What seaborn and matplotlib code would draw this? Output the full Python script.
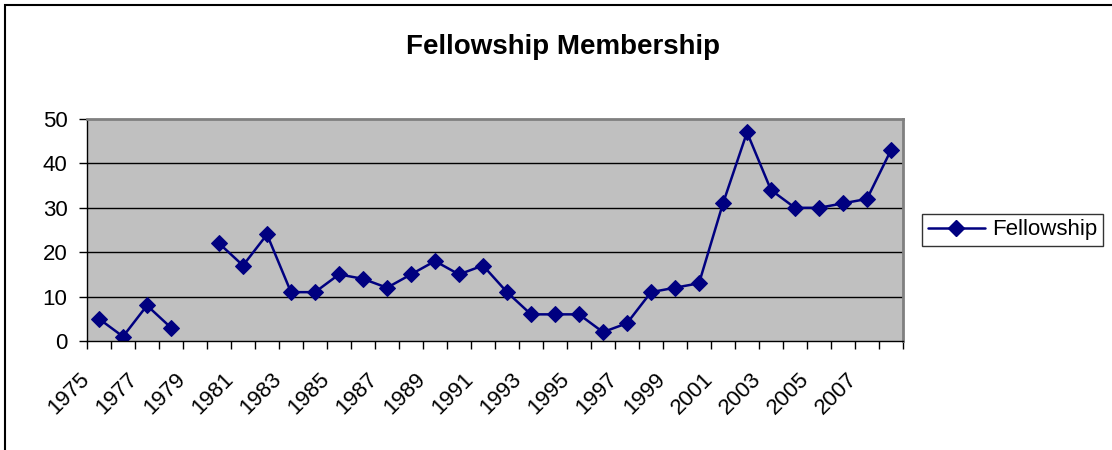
import numpy as np
import pandas as pd
import matplotlib.pyplot as plt
import matplotlib.transforms as mtrans
import seaborn as sns
from matplotlib.patches import Rectangle

# data (1979 has no value)
years = list(range(1975, 2009))
members = [5, 1, 8, 3, np.nan, 22, 17, 24, 11, 11, 15, 14, 12, 15, 18, 15, 17,
           11, 6, 6, 6, 2, 4, 11, 12, 13, 31, 47, 34, 30, 30, 31, 32, 43]
yticks = [0, 10, 20, 30, 40, 50]

df = pd.DataFrame({"year": years, "members": members})
df["pos"] = np.arange(len(df))
# split into runs so the missing year leaves a gap
df["seg"] = df["members"].isna().cumsum()
df = df.dropna()

sns.set_style("white")
plt.rcParams["font.family"] = ["Liberation Sans", "DejaVu Sans"]
plt.rcParams["text.color"] = "black"
plt.rcParams["xtick.color"] = "black"
plt.rcParams["ytick.color"] = "black"

fig = plt.figure(figsize=(11.12, 4.5), dpi=100)
ax = fig.add_axes([87 / 1112, 1 - 341 / 450, 816 / 1112, 222 / 450])
ax.set_facecolor("#C0C0C0")

navy = "#000080"
sns.lineplot(data=df, x="pos", y="members", units="seg", estimator=None,
             color=navy, lw=1.8, marker="D", markersize=8,
             markeredgecolor=navy, ax=ax, legend=False)

ax.set_ylim(0, 50)
ax.set_yticks(yticks)
for y in yticks[1:-1]:
    ax.axhline(y, color="black", lw=1, zorder=0.5)

# tick marks on category edges, labels on every other year
ax.set_xticks(np.arange(-0.5, len(years), 1.0))
ax.set_xticklabels([])
ax.set_xticks(np.arange(0, len(years), 2), minor=True)
ax.set_xticklabels([str(y) for y in years[::2]], minor=True, rotation=45,
                   ha="right", rotation_mode="anchor", fontsize=16)
ax.set_xlim(-0.5, len(years) - 0.5)
ax.tick_params(axis="x", which="major", direction="out", length=6, width=1,
               color="black", bottom=True)
ax.tick_params(axis="x", which="minor", length=0, pad=20)
ax.tick_params(axis="y", direction="out", length=6, width=1, color="black",
               left=True, labelsize=16, pad=8)

# nudge the slanted labels left, as in the original
shift = mtrans.ScaledTranslation(-0.20, 0, fig.dpi_scale_trans)
for lab in ax.get_xticklabels(minor=True):
    lab.set_transform(lab.get_transform() + shift)

ax.set_xlabel("")
ax.set_ylabel("")
for s in ["top", "right"]:
    ax.spines[s].set_color("#808080")
    ax.spines[s].set_linewidth(2)
for s in ["left", "bottom"]:
    ax.spines[s].set_color("black")
    ax.spines[s].set_linewidth(1)

fig.text(563 / 1112, 1 - 47 / 450, "Fellowship Membership", ha="center",
         va="center", fontsize=20, fontweight="bold", color="black")

handle = plt.Line2D([], [], color=navy, lw=1.8, marker="D", markersize=8)
leg = fig.legend([handle], ["Fellowship"], loc="center left",
                 bbox_to_anchor=(922 / 1112, 1 - 230 / 450), fontsize=16,
                 frameon=True, fancybox=False, edgecolor="black",
                 handlelength=2.6, borderpad=0.25, handletextpad=0.3,
                 borderaxespad=0)
leg.get_frame().set_linewidth(1)

fig.patches.append(Rectangle((5 / 1112, -0.1), 1.2, 1 - 5 / 450 + 0.1,
                             transform=fig.transFigure, fill=False,
                             edgecolor="black", lw=1.5))

fig.savefig("out.png", dpi=100)
